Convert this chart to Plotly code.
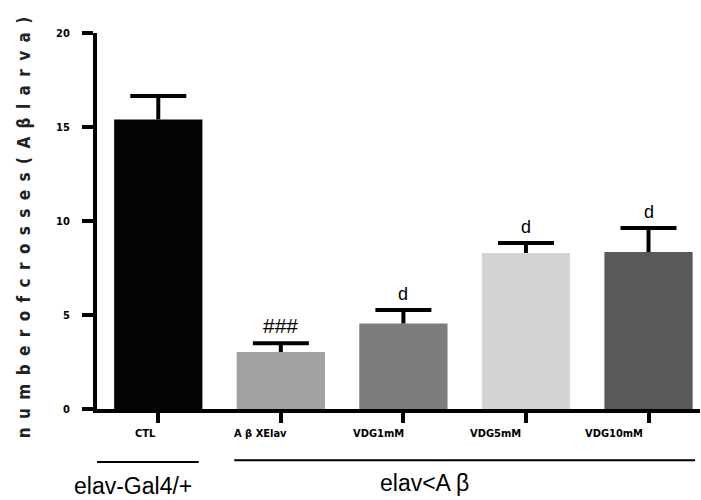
import plotly.graph_objects as go

categories = ["CTL", "A β XElav", "VDG1mM", "VDG5mM", "VDG10mM"]
values = [15.4, 3.03, 4.55, 8.3, 8.35]
errors = [1.25, 0.47, 0.72, 0.53, 1.28]
colors = ["#050505", "#a1a1a4", "#7c7c7c", "#d4d4d2", "#595959"]
marks = ["", "###", "d", "d", "d"]
yticks = [0, 5, 10, 15, 20]
groups = ["elav-Gal4/+", "elav<A β"]
ytitle_letters = "numberofcrosses(Aβlarva)"

xidx = list(range(len(categories)))
cond = "DejaVu Sans Condensed, Liberation Sans Narrow, Arial Narrow"
narrow = dict(family=cond, size=11, color="#000", weight="bold")

fig = go.Figure()
fig.add_trace(go.Bar(
    x=xidx, y=values, marker=dict(color=colors, line=dict(width=0)),
    error_y=dict(type="data", array=errors, arrayminus=[0]*len(errors), symmetric=False,
                 thickness=4, width=0, color="#000"),
    width=0.72, showlegend=False, hoverinfo="skip",
))
# error bar caps
fig.add_trace(go.Scatter(
    x=xidx, y=[v + e for v, e in zip(values, errors)], mode="markers",
    marker=dict(symbol="line-ew", size=40, line=dict(width=4, color="#000")),
    showlegend=False, hoverinfo="skip", cliponaxis=False,
))

ann = []
lab_shift = [-13, -20, -25, -30, -35]
for i, lab in enumerate(categories):
    ann.append(dict(x=i, y=0, yref="y", text=lab, showarrow=False, xshift=lab_shift[i],
                    yshift=-24, font=narrow, xanchor="center", yanchor="middle"))
for i, m in enumerate(marks):
    if m:
        ann.append(dict(x=i, y=values[i] + errors[i], text=m, showarrow=False, yanchor="bottom",
                        xanchor="center", yshift=4,
                        font=dict(family="Liberation Sans, Arial", size=21 if m == "###" else 18, color="#000")))
ann.append(dict(x=-0.21, y=-0.205, yref="paper", text=groups[0], showarrow=False,
                xanchor="center", yanchor="middle",
                font=dict(family="Liberation Sans, Arial", size=23, color="#000")))
ann.append(dict(x=2.17, y=-0.198, yref="paper", text=groups[1], showarrow=False,
                xanchor="center", yanchor="middle",
                font=dict(family="Liberation Sans, Arial", size=23, color="#000")))
ann.append(dict(x=-0.121, xref="paper", y=0.481, yref="paper",
                text="\u00a0\u2009".join(ytitle_letters), textangle=-90, showarrow=False,
                xanchor="center", yanchor="middle",
                font=dict(family=cond, size=17, color="#222", weight="bold")))

shapes = [
    dict(type="line", xref="x", yref="paper", x0=-0.58, x1=0.33, y0=-0.141, y1=-0.141,
         line=dict(color="#000", width=2)),
    dict(type="line", xref="x", yref="paper", x0=0.62, x1=4.38, y0=-0.136, y1=-0.136,
         line=dict(color="#000", width=2)),
]

fig.update_layout(
    width=701, height=500, margin=dict(l=97, r=1, t=33, b=91),
    paper_bgcolor="white", plot_bgcolor="white",
    xaxis=dict(range=[-0.5, 4.42], tickvals=xidx, showticklabels=False, ticks="outside",
               ticklen=10, tickwidth=4, tickcolor="#000", showline=True, linewidth=4,
               linecolor="#000", showgrid=False, zeroline=False, fixedrange=True),
    yaxis=dict(range=[0, 20], tickvals=yticks, ticks="outside", ticklen=11, tickwidth=4,
               tickcolor="#000", showline=True, linewidth=4, linecolor="#000", showgrid=False,
               zeroline=False, tickfont=narrow, ticklabelstandoff=10),
    annotations=ann, shapes=shapes,
)
fig.write_html("out.html")
